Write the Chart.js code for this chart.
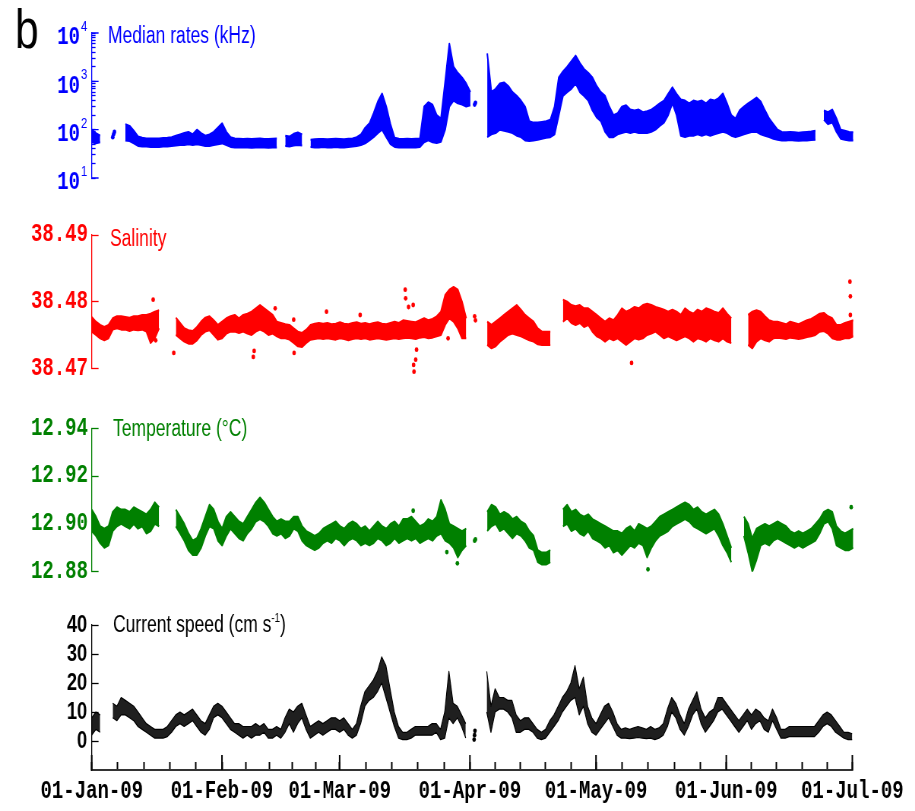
<!DOCTYPE html>
<html>
<head>
<meta charset="utf-8">
<script src="https://cdn.jsdelivr.net/npm/chart.js@4.4.1/dist/chart.umd.min.js"></script>
<style>
  html, body { margin: 0; padding: 0; background: #fff; }
  #wrap { position: relative; width: 915px; height: 811px; overflow: hidden; background: #fff; }
  #wrap canvas { position: absolute; left: 0; top: 0; transform-origin: 0 0; }
</style>
</head>
<body>
<div id="wrap"></div>
<script>
// x axis: days since 01-Jan-2009
const monthDays = [0, 31, 59, 90, 120, 151, 181];
const monthLabels = ['01-Jan-09', '01-Feb-09', '01-Mar-09', '01-Apr-09', '01-May-09', '01-Jun-09', '01-Jul-09'];

// tick labels of the four panels
const rateTicks = [10, 100, 1000, 10000];
const salTicks = [38.47, 38.48, 38.49];
const tempTicks = [12.88, 12.90, 12.92, 12.94];
const curTicks = [0, 10, 20, 30, 40];

// median rates (kHz), daily lower / upper envelope, day 0..181
const rateLo = [
  55,52,55,null,null,null,null,null,60,58,
  52,46,45,45,44,44,44,45,45,46,
  47,48,48,50,48,50,48,46,46,48,
  50,52,48,44,43,43,43,43,42,43,
  43,43,42,43,43,null,46,45,47,48,
  47,null,44,43,43,44,43,43,44,43,
  43,44,45,46,48,52,60,70,85,100,
  70,50,44,43,43,43,43,43,44,55,
  60,55,53,56,100,300,400,350,330,300,
  320,null,null,null,70,80,85,100,95,90,
  85,75,70,60,58,60,62,65,68,70,
  80,200,500,600,700,900,600,500,400,250,
  180,150,90,70,70,80,85,90,85,90,
  85,85,85,90,100,120,140,200,350,200,
  75,70,75,75,80,75,80,75,80,85,
  90,85,75,70,75,80,85,90,90,80,
  75,70,65,62,60,60,61,60,59,60,
  60,61,62,null,160,130,140,90,65,62,
  60,60
];
const rateHi = [
  100,85,75,null,null,null,null,null,130,120,
  95,72,68,66,66,66,66,67,68,70,
  75,80,85,90,80,100,85,75,80,90,
  110,135,90,70,66,65,64,65,64,65,
  66,64,64,65,66,null,75,72,82,88,
  80,null,62,63,64,64,63,64,65,64,
  63,65,66,70,80,110,135,220,380,560,
  300,130,68,65,64,65,64,65,66,300,
  370,330,200,170,1000,6000,2000,1500,1200,900,
  600,null,null,null,3800,600,700,900,950,800,
  600,500,400,300,150,140,140,145,150,160,
  300,1200,1600,2000,2600,3400,2400,1800,1500,1200,
  800,600,500,300,200,220,300,320,260,250,
  260,230,240,260,300,350,400,550,750,550,
  420,400,350,400,380,400,350,420,400,450,
  560,350,200,170,250,300,350,400,460,380,
  250,170,130,100,90,88,90,88,86,88,
  90,92,95,null,250,230,260,170,100,95,
  90,88
];
const rateDots = [[5, 70], [5.2, 80], [5.4, 90], [91, 330], [91.2, 360]];

// salinity, daily lower / upper envelope
const salLo = [
  38.4755,38.4750,38.4745,38.4742,38.4745,38.4758,38.4760,38.4758,38.4758,38.4756,
  38.4758,38.4757,38.4758,38.4755,38.4738,38.4745,38.4760,null,null,null,
  38.4750,38.4745,38.4740,38.4737,38.4737,38.4742,38.4750,38.4755,38.4757,38.4750,
  38.4743,38.4745,38.4752,38.4755,38.4755,38.4753,38.4755,38.4752,38.4750,38.4755,
  38.4758,38.4755,38.4750,38.4752,38.4748,38.4745,38.4745,38.4743,38.4738,38.4733,
  38.4732,38.4738,38.4743,38.4744,38.4745,38.4744,38.4745,38.4744,38.4743,38.4745,
  38.4744,38.4742,38.4744,38.4745,38.4744,38.4745,38.4743,38.4744,38.4745,38.4744,
  38.4743,38.4744,38.4745,38.4744,38.4745,38.4746,38.4745,38.4744,38.4746,38.4747,
  38.4745,38.4746,38.4748,38.4750,38.4765,38.4775,38.4770,38.4760,38.4745,38.4745,
  null,null,null,null,38.4735,38.4730,38.4733,38.4740,38.4745,38.4750,
  38.4752,38.4750,38.4748,38.4745,38.4742,38.4740,38.4736,38.4735,38.4735,38.4735,
  null,null,38.4770,38.4775,38.4768,38.4765,38.4768,38.4762,38.4765,38.4755,
  38.4748,38.4745,38.4740,38.4745,38.4742,38.4745,38.4740,38.4735,38.4740,38.4745,
  38.4743,38.4745,38.4750,38.4752,38.4755,38.4750,38.4745,38.4748,38.4745,38.4742,
  38.4745,38.4748,38.4745,38.4740,38.4745,38.4743,38.4740,38.4745,38.4742,38.4740,
  38.4745,38.4740,38.4738,null,null,null,38.4735,38.4730,38.4740,38.4745,
  38.4742,38.4740,38.4745,38.4746,38.4745,38.4744,38.4746,38.4745,38.4744,38.4745,
  38.4747,38.4748,38.4750,38.4755,38.4756,38.4752,38.4745,38.4743,38.4743,38.4745,
  38.4745,38.4748
];
const salHi = [
  38.4777,38.4770,38.4765,38.4762,38.4765,38.4775,38.4778,38.4778,38.4777,38.4776,
  38.4778,38.4778,38.4780,38.4780,38.4782,38.4785,38.4787,null,null,null,
  38.4776,38.4768,38.4760,38.4757,38.4756,38.4762,38.4770,38.4776,38.4778,38.4772,
  38.4765,38.4770,38.4775,38.4778,38.4780,38.4775,38.4780,38.4782,38.4785,38.4790,
  38.4795,38.4790,38.4785,38.4780,38.4770,38.4768,38.4766,38.4765,38.4760,38.4755,
  38.4753,38.4758,38.4765,38.4767,38.4768,38.4767,38.4768,38.4766,38.4767,38.4769,
  38.4767,38.4766,38.4768,38.4769,38.4767,38.4768,38.4766,38.4768,38.4769,38.4767,
  38.4766,38.4768,38.4770,38.4768,38.4772,38.4771,38.4770,38.4769,38.4772,38.4775,
  38.4772,38.4774,38.4778,38.4785,38.4810,38.4818,38.4822,38.4818,38.4800,38.4775,
  null,null,null,null,38.4770,38.4765,38.4770,38.4775,38.4780,38.4785,
  38.4790,38.4795,38.4788,38.4780,38.4775,38.4770,38.4760,38.4755,38.4755,38.4755,
  null,null,38.4803,38.4800,38.4795,38.4793,38.4795,38.4790,38.4790,38.4785,
  38.4780,38.4775,38.4770,38.4775,38.4772,38.4780,38.4790,38.4785,38.4788,38.4792,
  38.4790,38.4795,38.4797,38.4795,38.4792,38.4790,38.4788,38.4785,38.4788,38.4785,
  38.4780,38.4790,38.4785,38.4782,38.4788,38.4785,38.4790,38.4788,38.4785,38.4783,
  38.4790,38.4782,38.4775,null,null,null,38.4780,38.4785,38.4787,38.4785,
  38.4778,38.4772,38.4770,38.4770,38.4768,38.4766,38.4770,38.4768,38.4766,38.4769,
  38.4772,38.4774,38.4778,38.4782,38.4783,38.4778,38.4775,38.4765,38.4765,38.4768,
  38.4770,38.4772
];
const salDots = [
  [14.6, 38.4803], [15.2, 38.4742], [19.5, 38.4723], [38.4, 38.4717], [38.6, 38.4726],
  [43.6, 38.4790], [48.0, 38.4773], [48.1, 38.4723], [55.8, 38.4785], [63.8, 38.4780],
  [74.5, 38.4818], [74.6, 38.4805], [75.3, 38.4792], [76.4, 38.4795], [77.2, 38.4728],
  [77.0, 38.4713], [76.5, 38.4705], [76.6, 38.4695], [80.0, 38.4693], [84.7, 38.4745],
  [91.0, 38.4778], [91.2, 38.4772], [128.3, 38.4708], [128.4, 38.4687],
  [180.2, 38.4830], [180.3, 38.4808], [180.3, 38.4780]
];

// temperature (deg C), daily lower / upper envelope
const tempLo = [
  12.897,12.895,12.892,12.890,12.891,12.897,12.899,12.900,12.899,12.898,
  12.900,12.898,12.899,12.896,12.897,12.900,12.899,null,null,null,
  12.899,12.896,12.893,12.889,12.887,12.887,12.890,12.895,12.899,12.898,
  12.893,12.891,12.895,12.898,12.896,12.894,12.893,12.896,12.898,12.901,
  12.902,12.901,12.899,12.896,12.895,12.896,12.894,12.895,12.898,12.897,
  12.893,12.891,12.890,12.889,12.890,12.892,12.893,12.892,12.894,12.893,
  12.891,12.893,12.894,12.893,12.891,12.892,12.891,12.892,12.894,12.893,
  12.891,12.892,12.894,12.892,12.893,12.894,12.893,12.894,12.892,12.893,
  12.894,12.893,12.895,12.896,12.893,12.892,12.890,12.886,12.889,12.891,
  null,null,null,null,12.897,12.899,12.900,12.897,12.898,12.896,
  12.894,12.896,12.895,12.893,12.890,12.889,12.884,12.883,12.883,12.884,
  null,null,12.899,12.900,12.897,12.898,12.896,12.895,12.897,12.894,
  12.893,12.892,12.890,12.891,12.888,12.889,12.887,12.889,12.891,12.890,
  12.892,12.891,12.886,12.890,12.893,12.895,12.896,12.897,12.899,12.900,
  12.901,12.902,12.901,12.899,12.898,12.897,12.896,12.897,12.898,12.895,
  12.891,12.888,12.884,null,null,12.895,12.888,12.880,12.885,12.891,
  12.892,12.891,12.893,12.894,12.893,12.892,12.891,12.890,12.891,12.890,
  12.891,12.892,12.893,12.896,12.900,12.901,12.898,12.891,12.890,12.889,
  12.889,12.890
];
const tempHi = [
  12.906,12.903,12.899,12.898,12.899,12.905,12.907,12.906,12.906,12.905,
  12.907,12.906,12.905,12.904,12.906,12.909,12.907,null,null,null,
  12.906,12.903,12.900,12.896,12.893,12.894,12.898,12.903,12.908,12.906,
  12.901,12.898,12.903,12.905,12.903,12.901,12.900,12.903,12.906,12.909,
  12.911,12.909,12.906,12.903,12.901,12.902,12.901,12.901,12.903,12.903,
  12.899,12.897,12.896,12.895,12.896,12.898,12.899,12.900,12.901,12.899,
  12.898,12.900,12.901,12.900,12.898,12.899,12.897,12.899,12.901,12.899,
  12.898,12.900,12.901,12.899,12.902,12.902,12.903,12.901,12.899,12.900,
  12.902,12.901,12.903,12.910,12.906,12.900,12.899,12.898,12.897,12.898,
  null,null,null,null,12.905,12.908,12.907,12.904,12.905,12.904,
  12.902,12.903,12.901,12.900,12.897,12.895,12.889,12.888,12.888,12.889,
  null,null,12.906,12.908,12.905,12.906,12.904,12.903,12.904,12.902,
  12.901,12.900,12.899,12.898,12.897,12.897,12.896,12.898,12.899,12.897,
  12.900,12.899,12.898,12.899,12.901,12.903,12.904,12.905,12.906,12.907,
  12.908,12.909,12.908,12.906,12.907,12.905,12.904,12.905,12.906,12.904,
  12.900,12.895,12.890,null,null,12.903,12.900,12.894,12.898,12.899,
  12.900,12.899,12.900,12.901,12.900,12.899,12.897,12.896,12.897,12.896,
  12.897,12.898,12.900,12.902,12.905,12.906,12.905,12.899,12.897,12.896,
  12.897,12.898
];
const tempDots = [[76.4, 12.9055], [84.4, 12.8882], [86.9, 12.8835], [91, 12.893], [91.2, 12.8935], [132.2, 12.881], [180.5, 12.907]];

// current speed (cm/s), daily lower / upper envelope
const curLo = [
  2,4,3,null,null,8,7,9,9,8,
  7,5,4,3,2,1,1,1,1.5,3,
  5,6,5,6,7,5,3,2,4,8,
  9,8,6,4,3,2,1,2,1,2,
  2,3,1,1,2,1,3,6,3,6,
  8,4,1,2,3,2,3,4,4,3,
  4,2,1,2,6,12,14,15,17,20,
  15,10,5,1,0.5,0.5,1,2,2,2,
  2,2,3,0.5,1,8,6,8,5,1,
  null,null,null,null,10,3,10,11,11,10,
  8,3,3,4,4,3,1,0.5,1,3,
  5,7,10,12,14,15,9,12,6,3,
  2,4,6,8,5,2,1,1,0.8,1,
  1.2,1,0.8,1,0.5,1,2,5,10,8,
  4,2,5,9,11,6,3,5,7,10,
  11,9,7,5,3,5,7,4,6,7,
  4,3,7,4,1,1,1.5,1.5,1.5,1.5,
  1.5,1.5,1.5,3,5,6,5,3,2,1,
  0.5,0.5
];
const curHi = [
  8,10,9,null,null,13,12,15,14,13,
  12,10,8,6,5,4,4,4,5,7,
  9,10,9,10,11,9,7,6,9,12,
  13,12,10,8,6,6,5,5,5,6,
  5,6,4,4,5,4,8,11,10,12,
  13,9,5,6,7,6,7,8,8,7,
  8,6,4,6,12,17,19,21,24,29,
  26,18,10,5,3,3,4,5,5,5,
  5,6,6,4,10,24,13,12,9,6,
  null,null,null,null,24,12,18,15,15,14,
  14,9,7,8,8,6,4,3,4,7,
  9,12,15,17,20,26,18,22,12,8,
  6,9,12,13,10,6,4,4.5,4,4.5,
  5,4.5,4,5,4,4.5,6,11,15,13,
  9,6,11,14,17,11,8,10,11,15,
  15,13,11,9,7,9,11,9,11,10,
  8,7,11,8,4,4,5,5,5,5,
  5,5,5,7,9,10,9,7,5,3,
  3,2.5
];
const curDots = [[91, 0.5], [91.1, 2], [91.2, 3.5]];

const BLUE = '#0000ff', RED = '#ff0000', GREEN = 'rgb(0,128,0)', BLACK = '#000000';
const MONO = '"Liberation Mono", "DejaVu Sans Mono", monospace';
const SANS = '"Liberation Sans", Arial, sans-serif';
const TITLE_FONT = '23px ' + SANS;

// the reference figure is squeezed horizontally; draw wider and scale the canvas back
const SQUEEZE = 0.76;
const PAGE_H = 811;
const CANVAS_W = Math.round(915 / SQUEEZE);
const AXIS_W = 91.7 / SQUEEZE;
const RIGHT_PAD = CANVAS_W - 853.3 / SQUEEZE;

function addCanvas() {
  const c = document.createElement('canvas');
  c.width = CANVAS_W;
  c.height = PAGE_H;
  c.style.width = CANVAS_W + 'px';
  c.style.height = PAGE_H + 'px';
  c.style.transform = 'scaleX(' + SQUEEZE + ')';
  document.getElementById('wrap').appendChild(c);
  return c;
}

function xTicks() {
  const out = [];
  for (let i = 0; i < monthDays.length; i++) {
    out.push({ value: monthDays[i], major: true });
    if (i < monthDays.length - 1) {
      const span = monthDays[i + 1] - monthDays[i];
      for (let k = 1; k < 5; k++) out.push({ value: monthDays[i] + span * k / 5 });
    }
  }
  return out;
}

function xScale(show) {
  return {
    type: 'linear', min: 0, max: 181, display: show,
    afterBuildTicks: s => { s.ticks = xTicks(); },
    // fit() runs even for hidden axes, so only force a height on the visible one
    afterFit: s => { s.height = show ? 41 : 0; },
    border: { display: true, color: '#333', width: 2 },
    grid: { drawOnChartArea: false, drawTicks: true, tickLength: -8, color: '#000', tickWidth: 2 },
    ticks: {
      autoSkip: false, maxRotation: 0, padding: 15, color: '#000',
      font: { family: MONO, size: 25, weight: 'bold' },
      callback: v => { const i = monthDays.indexOf(v); return i >= 0 ? monthLabels[i] : ''; }
    }
  };
}

function band(lo, hi, color, fillColor, bw) {
  const pts = arr => arr.map((v, i) => ({ x: i, y: v }));
  return [
    { data: pts(lo), borderColor: color, borderWidth: bw, pointRadius: 0, fill: false, borderJoinStyle: 'round' },
    { data: pts(hi), borderColor: color, borderWidth: bw, pointRadius: 0, fill: '-1', backgroundColor: fillColor, borderJoinStyle: 'round' }
  ];
}

function dots(list, color) {
  return {
    data: list.map(p => ({ x: p[0], y: p[1] })), showLine: false, clip: false,
    pointRadius: 2.4, pointBackgroundColor: color, pointBorderWidth: 0, borderColor: color
  };
}

function textPlugin(items) {
  return {
    id: 'panelText',
    afterDraw(chart) {
      const ctx = chart.ctx;
      ctx.save();
      items.forEach(it => {
        let x = it.x / SQUEEZE;
        ctx.fillStyle = it.color;
        ctx.textAlign = 'left';
        ctx.textBaseline = 'alphabetic';
        it.parts.forEach(p => {
          ctx.font = p.font || TITLE_FONT;
          ctx.fillText(p.t, x, it.y + (p.dy || 0));
          x += ctx.measureText(p.t).width;
        });
      });
      ctx.restore();
    }
  };
}

function longTicks(axisId, values, len, color, width) {
  return {
    id: 'longTicks',
    afterDraw(chart) {
      const s = chart.scales[axisId], ctx = chart.ctx;
      ctx.save();
      ctx.strokeStyle = color;
      ctx.lineWidth = width;
      ctx.beginPath();
      values.forEach(v => {
        const p = s.getPixelForValue(v);
        if (s.isHorizontal()) { ctx.moveTo(p, s.top); ctx.lineTo(p, s.top - len); }
        else { ctx.moveTo(s.right, p); ctx.lineTo(s.right + len, p); }
      });
      ctx.stroke();
      ctx.restore();
    }
  };
}

function powerLabels(values, color) {
  return {
    id: 'powerLabels',
    afterDraw(chart) {
      const s = chart.scales.y, ctx = chart.ctx;
      ctx.save();
      ctx.fillStyle = color;
      ctx.textBaseline = 'middle';
      values.forEach(v => {
        const y = s.getPixelForValue(v);
        ctx.font = 'bold 25px ' + MONO;
        ctx.textAlign = 'right';
        ctx.fillText('10', 80 / SQUEEZE, y + 5);
        ctx.font = '15px ' + SANS;
        ctx.textAlign = 'left';
        ctx.fillText(String(Math.round(Math.log10(v))), 81 / SQUEEZE, y - 6);
      });
      ctx.restore();
    }
  };
}

function yLinear(min, max, tickList, color, font, fmt, pad) {
  return {
    type: 'linear', min: min, max: max, position: 'left',
    afterBuildTicks: s => { s.ticks = tickList.map(v => ({ value: v })); },
    afterFit: s => { s.width = AXIS_W; },
    border: { color: color, width: 1.3 },
    grid: { drawOnChartArea: false, drawTicks: true, tickLength: -9, color: color, tickWidth: 1.3 },
    ticks: { autoSkip: false, color: color, padding: pad, font: font, callback: fmt }
  };
}

function makeChart(datasets, yScale, top, bottom, showX, plugins) {
  new Chart(addCanvas(), {
    type: 'line',
    data: { datasets: datasets },
    options: {
      responsive: false,
      animation: false,
      devicePixelRatio: 1,
      events: [],
      layout: { padding: { left: 0, right: RIGHT_PAD, top: top, bottom: bottom } },
      plugins: { legend: { display: false }, tooltip: { enabled: false } },
      scales: { x: xScale(showX), y: yScale }
    },
    plugins: plugins
  });
}

// panel 1: median rates, log axis
const logTicks = [];
[10, 100, 1000].forEach(d => { for (let k = 1; k < 10; k++) logTicks.push(k * d); });
logTicks.push(10000);
makeChart(
  band(rateLo, rateHi, BLUE, BLUE, 2).concat([dots(rateDots, BLUE)]),
  {
    type: 'logarithmic', min: 10, max: 10000, position: 'left',
    afterBuildTicks: s => { s.ticks = logTicks.map(v => ({ value: v })); },
    afterFit: s => { s.width = AXIS_W; },
    border: { color: BLUE, width: 1.3 },
    grid: { drawOnChartArea: false, drawTicks: true, tickLength: -5, color: BLUE, tickWidth: 1.3 },
    ticks: { display: false }
  },
  33, PAGE_H - 178, false,
  [powerLabels(rateTicks, BLUE), longTicks('y', rateTicks, 9, BLUE, 1.3),
   textPlugin([
     { x: 15, y: 48, color: BLACK, parts: [{ t: 'b', font: '56px ' + SANS }] },
     { x: 108, y: 43, color: BLUE, parts: [{ t: 'Median rates (kHz)' }] }
   ])]
);

// panel 2: salinity
makeChart(
  band(salLo, salHi, RED, RED, 2).concat([dots(salDots, RED)]),
  yLinear(38.47, 38.49, salTicks, RED, { family: MONO, size: 25, weight: 'bold' }, v => v.toFixed(2), 14),
  235, PAGE_H - 368.3, false,
  [textPlugin([{ x: 110, y: 246, color: RED, parts: [{ t: 'Salinity' }] }])]
);

// panel 3: temperature
makeChart(
  band(tempLo, tempHi, GREEN, GREEN, 2).concat([dots(tempDots, GREEN)]),
  yLinear(12.88, 12.94, tempTicks, GREEN, { family: MONO, size: 25, weight: 'bold' }, v => v.toFixed(2), 14),
  428.3, PAGE_H - 571.7, false,
  [textPlugin([{ x: 113, y: 436, color: GREEN, parts: [{ t: 'Temperature (\u00B0C)' }] }])]
);

// panel 4: current speed, carries the date axis
makeChart(
  band(curLo, curHi, BLACK, 'rgba(0,0,0,0.88)', 1.2).concat([dots(curDots, BLACK)]),
  yLinear(-10, 40, curTicks, BLACK, { family: SANS, size: 24, weight: 'bold' }, v => String(v), 15),
  625, 0, true,
  [longTicks('x', monthDays, 15, BLACK, 2),
   textPlugin([{ x: 113, y: 632, color: BLACK, parts: [
     { t: 'Current speed (cm s' }, { t: '-1', font: '13px ' + SANS, dy: -10 }, { t: ')' }
   ] }])]
);
</script>
</body>
</html>
